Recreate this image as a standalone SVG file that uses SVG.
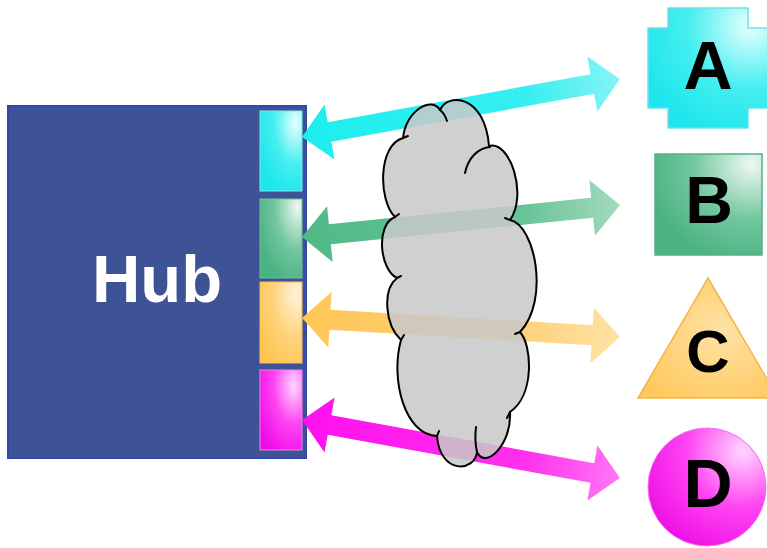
<svg xmlns="http://www.w3.org/2000/svg" width="767" height="548" viewBox="0 0 767 548">
<defs>
<style>
.lbl{font-family:"Liberation Sans",Arial,sans-serif;font-weight:bold;text-anchor:middle;fill:#000}
.hubt{font-family:"Liberation Sans",Arial,sans-serif;font-weight:bold;text-anchor:middle;fill:#fff}
.cl{fill:none;stroke:#000;stroke-width:2;stroke-linecap:round}
</style>
<radialGradient id="gCy" cx="0.85" cy="0.15" r="0.95"><stop offset="0" stop-color="#E6FFFF"/><stop offset="0.55" stop-color="#45EEF0"/><stop offset="1" stop-color="#1EE6EC"/></radialGradient>
<radialGradient id="gGr" cx="0.9" cy="0.1" r="1"><stop offset="0" stop-color="#EEF8F2"/><stop offset="0.55" stop-color="#72C79E"/><stop offset="1" stop-color="#4BB282"/></radialGradient>
<radialGradient id="gOr" cx="0.85" cy="0.15" r="1"><stop offset="0" stop-color="#FFF2D8"/><stop offset="0.55" stop-color="#FFD27A"/><stop offset="1" stop-color="#FFC552"/></radialGradient>
<radialGradient id="gMg" cx="0.8" cy="0.2" r="0.95"><stop offset="0" stop-color="#FFD6FF"/><stop offset="0.5" stop-color="#FF44F2"/><stop offset="1" stop-color="#EE0CE6"/></radialGradient>
<radialGradient id="gTri" cx="0.6" cy="0.45" r="0.7"><stop offset="0" stop-color="#FFE2A6"/><stop offset="1" stop-color="#FFC85C"/></radialGradient>
<linearGradient id="aCy" x1="0" y1="0" x2="1" y2="0"><stop offset="0" stop-color="#1EEEEE"/><stop offset="0.7" stop-color="#36EEF0"/><stop offset="1" stop-color="#88F4F6"/></linearGradient>
<linearGradient id="aGr" x1="0" y1="0" x2="1" y2="0"><stop offset="0" stop-color="#50BA86"/><stop offset="0.7" stop-color="#68C498"/><stop offset="1" stop-color="#A4DABE"/></linearGradient>
<linearGradient id="aOr" x1="0" y1="0" x2="1" y2="0"><stop offset="0" stop-color="#FFC658"/><stop offset="0.7" stop-color="#FFD27C"/><stop offset="1" stop-color="#FFE2A6"/></linearGradient>
<linearGradient id="aMg" x1="0" y1="0" x2="1" y2="0"><stop offset="0" stop-color="#FF10EE"/><stop offset="0.7" stop-color="#FF30EE"/><stop offset="1" stop-color="#FF78F4"/></linearGradient>
</defs>

<g id="hub">
<rect x="8" y="106" width="298" height="352" fill="#3D5396" stroke="#3346B0" stroke-width="2"/>
<text class="hubt" x="157" y="302" font-size="67">Hub</text>
</g>
<g id="port-a"><rect x="260" y="111" width="42" height="80" fill="url(#gCy)" stroke="#7FE8F0" stroke-width="1"/></g>
<g id="port-b"><rect x="260" y="199" width="42" height="79" fill="url(#gGr)" stroke="#6FC09A" stroke-width="1"/></g>
<g id="port-c"><rect x="260" y="282" width="42" height="81" fill="url(#gOr)" stroke="#F5C060" stroke-width="1"/></g>
<g id="port-d"><rect x="260" y="370" width="42" height="80" fill="url(#gMg)" stroke="#F080F0" stroke-width="1"/></g>

<g id="connectors">
<path transform="translate(302,137) rotate(-10.34)" fill="url(#aCy)" d="M0,0 L28,-28 L28,-10 L295.2,-10 L295.2,-28 L323.2,0 L295.2,28 L295.2,10 L28,10 L28,28 Z"/>
<path transform="translate(302,237) rotate(-5.75)" fill="url(#aGr)" d="M0,0 L28,-28 L28,-10 L291.6,-10 L291.6,-28 L319.6,0 L291.6,28 L291.6,10 L28,10 L28,28 Z"/>
<path transform="translate(302,318) rotate(3.42)" fill="url(#aOr)" d="M0,0 L28,-28 L28,-10 L290.6,-10 L290.6,-28 L318.6,0 L290.6,28 L290.6,10 L28,10 L28,28 Z"/>
<path transform="translate(302,420) rotate(10.34)" fill="url(#aMg)" d="M0,0 L28,-28 L28,-10 L295.2,-10 L295.2,-28 L323.2,0 L295.2,28 L295.2,10 L28,10 L28,28 Z"/>
</g>

<g id="cloud">
<path fill="#C8C8C8" fill-opacity="0.86" stroke="#000" stroke-width="2" stroke-linejoin="round" d="M403,138 C406,110 432,96 440,110 C448,92 485,95 489,146 C510,140 528,195 510,220 C535,225 550,300 520,332 C532,345 535,395 510,412 C512,445 485,470 477,452 C475,472 440,475 437,436 C405,435 390,380 401,340 C385,325 382,290 397,278 C380,270 375,225 395,217 C378,200 378,145 403,138 Z"/>
<path class="cl" d="M440,110 Q445,114 447,121"/>
<path class="cl" d="M465,173 C468,158 478,148 490,147"/>
<path class="cl" d="M403,138 L408,136"/>
<path class="cl" d="M510,220 L505,218"/>
<path class="cl" d="M520,332 L515,334"/>
<path class="cl" d="M510,412 L507,418"/>
<path class="cl" d="M477,452 C475,443 475,435 476,427"/>
<path class="cl" d="M437,436 L439,431"/>
<path class="cl" d="M401,340 L404,335"/>
<path class="cl" d="M397,278 L401,276"/>
<path class="cl" d="M395,217 L399,214"/>
</g>

<g id="node-a">
<path d="M668,8 H748 V28 H768 V108 H748 V128 H668 V108 H648 V28 H668 Z" fill="url(#gCy)" stroke="#70E0EA" stroke-width="1.5"/>
<text class="lbl" x="708" y="89" font-size="68">A</text>
</g>
<g id="node-b">
<rect x="655" y="154" width="107" height="101" fill="url(#gGr)" stroke="#5AAE86" stroke-width="1.5"/>
<text class="lbl" x="709" y="223" font-size="66">B</text>
</g>
<g id="node-c">
<path d="M708,278 L778,398 L638,398 Z" fill="url(#gTri)" stroke="#F0B848" stroke-width="1.5"/>
<text class="lbl" x="708" y="372" font-size="60">C</text>
</g>
<g id="node-d">
<circle cx="707" cy="487" r="59" fill="url(#gMg)" stroke="#F070F0" stroke-width="1"/>
<text class="lbl" x="708" y="507" font-size="68">D</text>
</g>
</svg>
